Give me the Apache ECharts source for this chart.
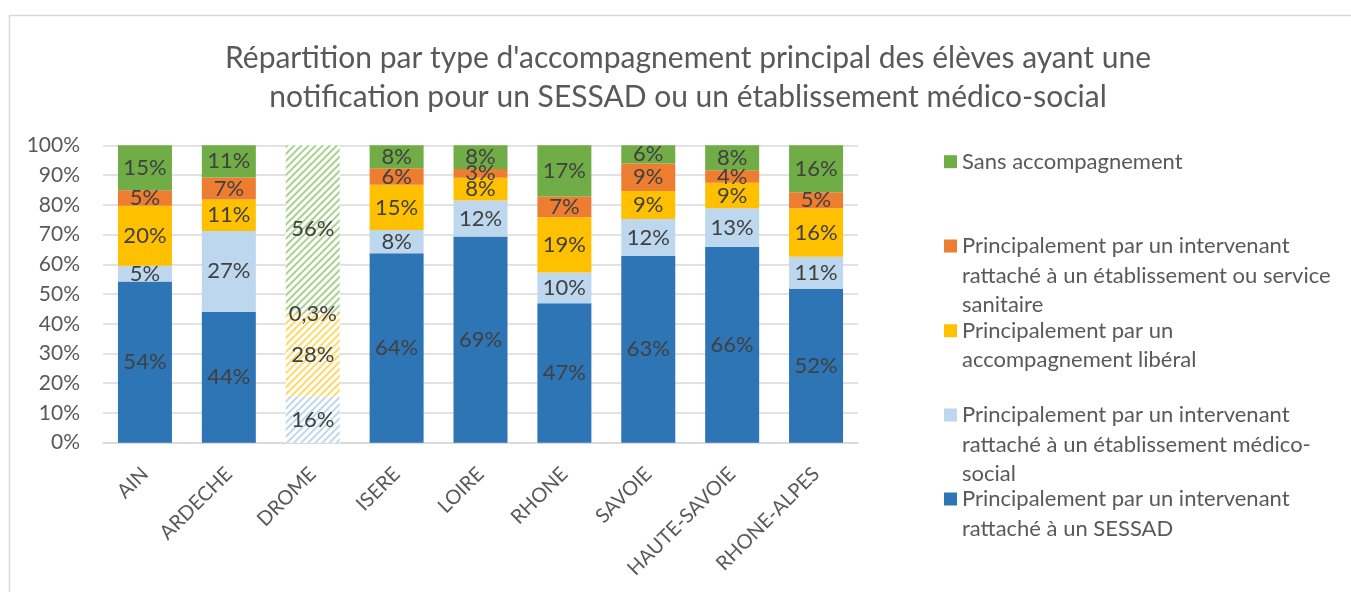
<!DOCTYPE html>
<html>
<head>
<meta charset="utf-8">
<script src="https://cdn.jsdelivr.net/npm/echarts@6/dist/echarts.min.js"></script>
<style>
html,body{margin:0;padding:0;background:#fff;}
#chart{width:1351px;height:592px;}
</style>
</head>
<body>
<div id="chart"></div>
<script>
const categories = ['AIN','ARDECHE','DROME','ISERE','LOIRE','RHONE','SAVOIE','HAUTE-SAVOIE','RHONE-ALPES'];
const sessad      = [54.2, 44.0, 0,    63.7, 69.3, 46.9, 62.8, 65.9, 51.7];
const medicoSocial= [5.3,  27.2, 15.6, 7.8,  12.1, 10.3, 12.4, 12.9, 10.8];
const liberal     = [20.2, 10.6, 27.7, 15.2, 7.7,  18.6, 9.4,  8.6,  16.3];
const sanitaire   = [5.2,  7.4,  0.3,  5.6,  2.9,  7.0,  9.3,  4.2,  5.4];
const sans        = [15.1, 10.8, 56.4, 7.7,  8.0,  17.2, 6.1,  8.4,  15.8];
const yTicks = [0,10,20,30,40,50,60,70,80,90,100];
const hatchedCategory = 'DROME';

const seriesNames = [
  'Principalement par un intervenant rattaché à un SESSAD',
  'Principalement par un intervenant rattaché à un établissement médico-social',
  'Principalement par un accompagnement libéral',
  'Principalement par un intervenant rattaché à un établissement ou service sanitaire',
  'Sans accompagnement'
];
const legendLabels = [
  'Principalement par un intervenant\nrattaché à un SESSAD',
  'Principalement par un intervenant\nrattaché à un établissement médico-\nsocial',
  'Principalement par un\naccompagnement libéral',
  'Principalement par un intervenant\nrattaché à un établissement ou service\nsanitaire',
  'Sans accompagnement'
];
const seriesValues = [sessad, medicoSocial, liberal, sanitaire, sans];
const colors = ['#2E75B6','#BDD7EE','#FFC000','#ED7D31','#70AD47'];
const stripeColors = ['#2E75B6','#BDD7EE','#FFD966','#F4B183','#A9D18E'];

const FONT = 'Lato';
const L = 29.5;
// legend first-line centers (visual layout)
const legendCenters = [499, 415, 330.7, 246, 161.7];

function fmt(v){
  if (!v) return '';
  if (v < 1) return v.toFixed(1).replace('.', ',') + '%';
  return Math.round(v) + '%';
}

const series = seriesValues.map((vals, si) => ({
  name: seriesNames[si],
  type: 'bar',
  stack: 'total',
  barWidth: 54,
  itemStyle: { color: colors[si] },
  label: {
    show: true,
    position: 'inside',
    color: '#404040',
    fontFamily: FONT,
    fontSize: 22,
    formatter: p => fmt(p.value)
  },
  emphasis: { disabled: true },
  data: vals.map((v, ci) => {
    if (categories[ci] === hatchedCategory) {
      return {
        value: v,
        itemStyle: {
          color: '#ffffff',
          decal: {
            symbol: 'rect',
            symbolSize: 1,
            color: stripeColors[si],
            dashArrayX: [1, 0],
            dashArrayY: [1.5, 2.5],
            rotation: -Math.PI / 4
          }
        }
      };
    }
    return v;
  })
}));

const legends = seriesNames.map((name, si) => {
  const n = legendLabels[si].split('\n').length;
  const padded = '\n'.repeat(n - 1) + legendLabels[si];
  return {
    orient: 'vertical',
    left: 944,
    top: legendCenters[si] - (2 * n - 1) * L / 2,
    padding: 0,
    itemWidth: 13,
    itemHeight: 13,
    itemGap: 0,
    selectedMode: false,
    icon: 'rect',
    data: [{ name: name, itemStyle: { color: colors[si], decal: 'none' } }],
    formatter: () => padded,
    textStyle: {
      color: '#595959',
      fontFamily: FONT,
      fontSize: 22,
      lineHeight: L
    }
  };
});

const chart = echarts.init(document.getElementById('chart'), null, { renderer: 'canvas' });
chart.setOption({
  animation: false,
  backgroundColor: '#ffffff',
  title: {
    text: "Répartition par type d'accompagnement principal des élèves ayant une\nnotification pour un SESSAD ou un établissement médico-social",
    left: 683,
    top: 34,
    textAlign: 'center',
    textStyle: {
      color: '#595959',
      fontFamily: FONT,
      fontWeight: 'normal',
      fontSize: 30,
      lineHeight: 39
    }
  },
  graphic: [{
    type: 'rect',
    silent: true,
    shape: { x: 9.5, y: 15.5, width: 1400, height: 700 },
    style: { fill: 'none', stroke: '#D9D9D9', lineWidth: 1.5 },
    z: -1
  }],
  legend: legends,
  grid: { left: 103, right: 493, top: 145.3, bottom: 592 - 442.7 },
  xAxis: {
    type: 'category',
    data: categories,
    axisTick: { show: false },
    axisLine: { lineStyle: { color: '#D9D9D9', width: 1.5 } },
    axisLabel: {
      rotate: 45,
      color: '#595959',
      fontFamily: FONT,
      fontSize: 20,
      margin: 28,
      interval: 0
    }
  },
  yAxis: {
    type: 'value',
    min: yTicks[0],
    max: yTicks[yTicks.length - 1],
    interval: yTicks[1] - yTicks[0],
    axisLine: { show: false },
    axisTick: { show: false },
    splitLine: { lineStyle: { color: '#D9D9D9', width: 1.5 } },
    axisLabel: {
      color: '#595959',
      fontFamily: FONT,
      fontSize: 21,
      margin: 23,
      formatter: v => v + '%'
    }
  },
  series: series
});
</script>
</body>
</html>
